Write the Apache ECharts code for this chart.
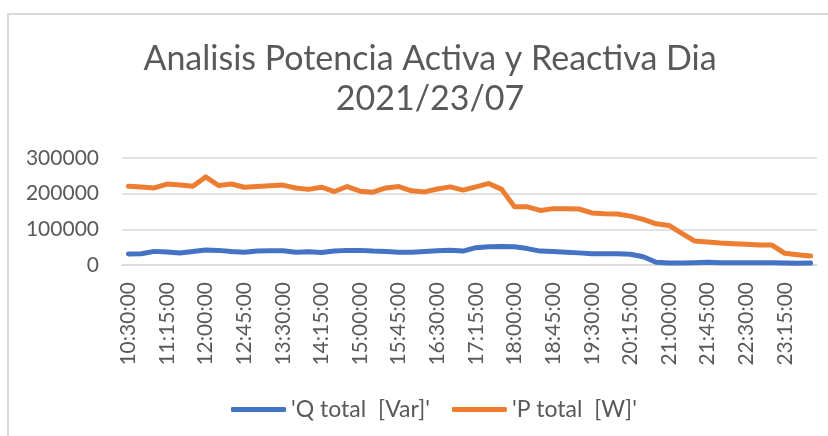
<!DOCTYPE html>
<html>
<head>
<meta charset="utf-8">
<script src="https://cdn.jsdelivr.net/npm/echarts@6/dist/echarts.min.js"></script>
<style>
  html, body { margin: 0; padding: 0; background: #fff; }
  #chart { width: 828px; height: 436px; }
</style>
</head>
<body>
<div id="chart"></div>
<script>
// horas de medicion (cada 15 min)
var horas = ['10:30:00','10:45:00','11:00:00','11:15:00','11:30:00','11:45:00','12:00:00','12:15:00','12:30:00','12:45:00',
    '13:00:00','13:15:00','13:30:00','13:45:00','14:00:00','14:15:00','14:30:00','14:45:00','15:00:00','15:15:00',
    '15:30:00','15:45:00','16:00:00','16:15:00','16:30:00','16:45:00','17:00:00','17:15:00','17:30:00','17:45:00',
    '18:00:00','18:15:00','18:30:00','18:45:00','19:00:00','19:15:00','19:30:00','19:45:00','20:00:00','20:15:00',
    '20:30:00','20:45:00','21:00:00','21:15:00','21:30:00','21:45:00','22:00:00','22:15:00','22:30:00','22:45:00',
    '23:00:00','23:15:00','23:30:00','23:45:00'];

// potencia reactiva
var qTotal = [30800, 31700, 38200, 36400, 33600, 38000, 42000, 41000, 38000, 36000,
    39000, 40000, 40000, 36000, 37000, 35000, 39000, 41000, 41000, 39000,
    38000, 36000, 36000, 38000, 40000, 41500, 39000, 48500, 51000, 52000,
    51000, 46000, 39000, 38000, 36000, 34000, 31700, 31700, 31700, 30000,
    23000, 7500, 5600, 5600, 6500, 8000, 6500, 6500, 6500, 6500,
    6500, 5600, 4700, 5600];

// potencia activa
var pTotal = [221000, 219000, 216000, 227000, 224000, 221000, 247000, 223000, 227000, 218000,
    220000, 222000, 224000, 216000, 212000, 218000, 206000, 220000, 207000, 204000,
    216000, 220000, 208000, 205000, 213000, 219000, 210000, 219000, 228700, 212000,
    163000, 163000, 153000, 158000, 158000, 157000, 146000, 143600, 143000, 137000,
    128000, 115600, 111000, 88600, 67000, 64400, 61600, 59700, 57900, 56000,
    56000, 32700, 29000, 25000];

var nombres = ["'Q total  [Var]'", "'P total  [W]'"];

;(function(){
    var chart = echarts.init(document.getElementById('chart'));
    var fuente = 'Lato';
    var option = {
        backgroundColor: '#fff',
        color: ['#4472C4', '#ED7D31'],
        animation: false,
        graphic: [{
            type: 'rect',
            shape: { x: 8, y: 14, width: 830, height: 430 },
            style: { fill: 'none', stroke: '#d9d9d9', lineWidth: 2 }
        }],
        title: {
            text: 'Analisis Potencia Activa y Reactiva Dia\n2021/23/07',
            left: 425,
            top: 34,
            textAlign: 'center',
            textStyle: {
                fontFamily: fuente,
                fontSize: 34,
                fontWeight: 'normal',
                color: '#595959',
                lineHeight: 40
            }
        },
        legend: {
            data: nombres,
            left: 226,
            top: 393,
            icon: 'roundRect',
            itemWidth: 55,
            itemHeight: 5,
            itemGap: 22,
            textStyle: {
                fontFamily: fuente,
                fontSize: 23,
                color: '#595959'
            }
        },
        grid: {
            left: 122,
            right: 11,
            top: 158,
            bottom: 171
        },
        xAxis: {
            type: 'category',
            data: horas,
            boundaryGap: true,
            axisLine: { show: true, lineStyle: { color: '#d9d9d9', width: 1.5 } },
            axisTick: { show: false },
            axisLabel: {
                interval: 2,
                rotate: 90,
                margin: 17,
                fontFamily: fuente,
                fontSize: 21,
                color: '#595959'
            }
        },
        yAxis: {
            type: 'value',
            min: 0,
            max: 300000,
            interval: 100000,
            axisLine: { show: false },
            axisTick: { show: false },
            splitLine: { lineStyle: { color: '#d9d9d9', width: 1.5 } },
            axisLabel: {
                margin: 23,
                fontFamily: fuente,
                fontSize: 21,
                color: '#595959',
                formatter: function (v) { return String(v); }
            }
        },
        series: [{
            name: nombres[0],
            type: 'line',
            data: qTotal,
            showSymbol: false,
            lineStyle: { width: 5, cap: 'round', join: 'round' }
        }, {
            name: nombres[1],
            type: 'line',
            data: pTotal,
            showSymbol: false,
            lineStyle: { width: 5, cap: 'round', join: 'round' }
        }]
    };
    chart.setOption(option);
})()
</script>
</body>
</html>
